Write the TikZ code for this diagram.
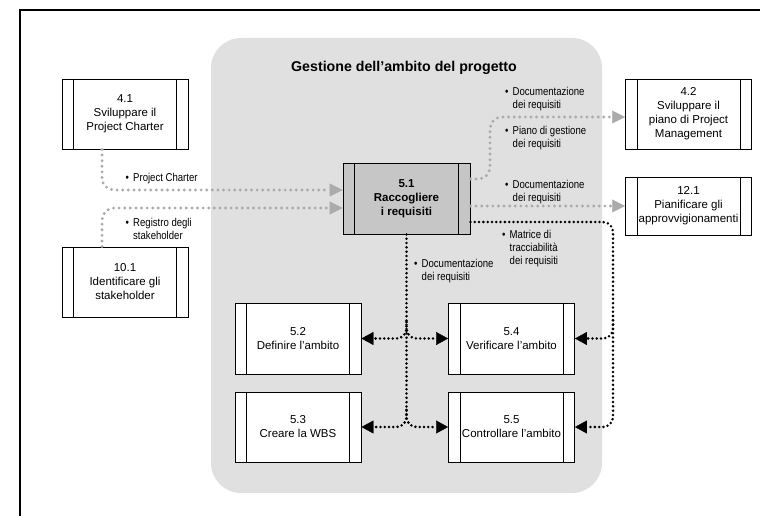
\documentclass[tikz,border=0pt]{standalone}
\usepackage{fontspec}
\setmainfont{Liberation Sans}
\newfontfamily\narrowfont[FakeStretch=0.84]{Liberation Sans}
\usepackage{xcolor}
\usepackage{tikz}
\usetikzlibrary{arrows.meta,positioning,calc}
\definecolor{areagray}{HTML}{E0E0E0}
\definecolor{boxgray}{HTML}{C6C6C6}
\definecolor{dotgray}{HTML}{ABABAB}
\newcommand{\bul}{\makebox[7.5pt][l]{\textbullet}}
\newcommand{\cont}{\hspace*{7.5pt}}

\tikzset{
  proc/.style={draw, line width=0.9pt, fill=white, minimum width=126pt, minimum height=70pt,
    inner sep=0pt, align=center, font=\fontsize{11.5}{14}\selectfont,
    path picture={
      \draw[line width=0.9pt]
        ([xshift=11.5pt]path picture bounding box.north west) -- ([xshift=11.5pt]path picture bounding box.south west)
        ([xshift=-11.5pt]path picture bounding box.north east) -- ([xshift=-11.5pt]path picture bounding box.south east);}},
  lbl/.style={inner sep=0pt, anchor=north west, align=left, font=\narrowfont\fontsize{11.4}{13}\selectfont},
  grayflow/.style={dotgray, line width=3.2pt, line cap=round, dash pattern=on 0pt off 5.6pt,
    rounded corners=12pt, -{Triangle[length=13pt,width=13pt,line width=0.4pt]}},
  blackflow/.style={black, line width=2.8pt, line cap=round, dash pattern=on 0pt off 4.3pt, rounded corners=10pt},
  blackarrow/.style={blackflow, -{Triangle[length=12pt,width=13pt,line width=0.4pt]}}
}

\begin{document}
\begin{tikzpicture}[x=1pt, y=-1pt]
\useasboundingbox (0,0) rectangle (760,516);

% cornice e area del processo 5
\draw[line width=1.4pt] (20,516) -- (20,10) -- (760,10);
\fill[areagray, rounded corners=30pt] (211,38) rectangle (602,493);
\node[anchor=base, font=\bfseries\fontsize{14.2}{17}\selectfont] (title) at (404,71.7) {Gestione dell’ambito del progetto};

% processi
\node[proc] (s41) at (125,114) {4.1\\Sviluppare il\\Project Charter};
\node[proc] (s101) at (125,282) {10.1\\Identificare gli\\stakeholder};
\node[proc, fill=boxgray, minimum width=127pt, minimum height=71pt, font=\bfseries\fontsize{11.5}{14}\selectfont] (s51) at (406.5,198.5) {5.1\\Raccogliere\\i requisiti};
\node[proc] (s42) at (688.5,114) {4.2\\Sviluppare il\\piano di Project\\Management};
\node[proc, minimum height=58pt] (s121) at (688.5,206) {12.1\\Pianificare gli\\approvvigionamenti};
\node[proc, minimum height=71pt] (s52) at (298,338.5) {5.2\\Definire l’ambito};
\node[proc] (s53) at (298,427) {5.3\\Creare la WBS};
\node[proc, minimum height=71pt] (s54) at (511.5,338.5) {5.4\\Verificare l’ambito};
\node[proc] (s55) at (511.5,427) {5.5\\Controllare l’ambito};

% punti di snodo
\coordinate (k1) at (490,150);
\coordinate (r0) at (613,300);
\coordinate (r1) at (613,316);
\coordinate (j1) at (406.5,322);
\coordinate (j2) at (406.5,410);
\coordinate (jd) at (406.5,417);

% ingressi
\draw[grayflow] ([xshift=-23pt]s41.south) |- ([yshift=8.5pt]s51.west);
\draw[grayflow] ([xshift=-23pt]s101.north) |- ([yshift=-9.5pt]s51.west);
% uscite verso altri gruppi
\draw[grayflow] ([yshift=19.5pt]s51.east) -| (k1) |- ([yshift=-3pt]s42.west);
\draw[grayflow] (s51.east |- s121.west) -- (s121.west);
% uscite dentro il gruppo
\draw[blackarrow] ([yshift=-23.5pt]s51.east) -| (r0) |- (s55.east);
\draw[blackarrow] (r1) |- (s54.east);
\draw[blackflow] (s51.south) -- (jd);
\draw[blackarrow] (j1) |- (s52.east);
\draw[blackarrow] (j1) |- (s54.west);
\draw[blackarrow] (j2) |- (s53.east);
\draw[blackarrow] (j2) |- (s55.west);

% etichette
\node[lbl] (lpc) at (125.5,173) {\bul Project Charter};
\node[lbl] (lreg) at (125.5,218) {\bul Registro degli\\\cont stakeholder};
\node[lbl] (ld1) at (505,87) {\bul Documentazione\\\cont dei requisiti};
\node[lbl] (lpg) at (505,126) {\bul Piano di gestione\\\cont dei requisiti};
\node[lbl] (ld2) at (505,180) {\bul Documentazione\\\cont dei requisiti};
\node[lbl] (lmt) at (502,230) {\bul Matrice di\\\cont tracciabilità\\\cont dei requisiti};
\node[lbl] (ld3) at (414,259) {\bul Documentazione\\\cont dei requisiti};
\end{tikzpicture}
\end{document}
